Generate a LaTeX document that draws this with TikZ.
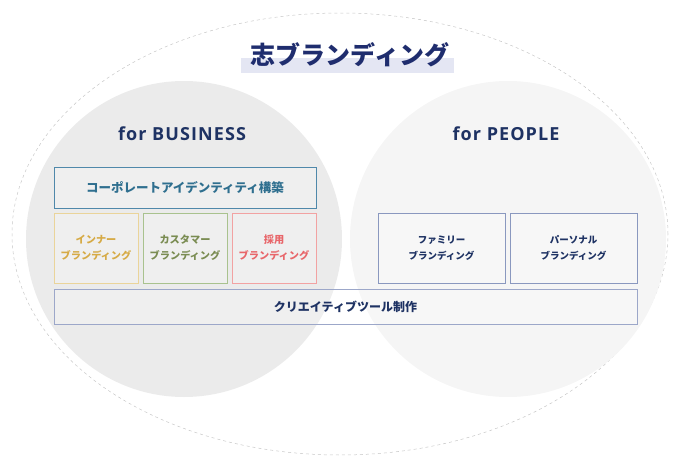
\documentclass[tikz,border=0pt]{standalone}
\usepackage{fontspec}
\setmainfont{Noto Sans CJK JP}
\newfontfamily\jpfont{Noto Sans CJK JP}
\newfontfamily\latinfont[LetterSpace=6]{Open Sans}
\definecolor{navy}{HTML}{1E3263}
\definecolor{titlenavy}{HTML}{1F2D6E}
\definecolor{band}{HTML}{E4E6F3}
\definecolor{bizgray}{HTML}{EBEBEB}
\definecolor{peoplegray}{HTML}{F5F5F5}
\definecolor{ciblue}{HTML}{4F88AA}
\definecolor{citext}{HTML}{2F6F8F}
\definecolor{inneryellow}{HTML}{EAD49A}
\definecolor{innertext}{HTML}{D6AA45}
\definecolor{custgreen}{HTML}{A9C28E}
\definecolor{custtext}{HTML}{7A8C52}
\definecolor{recred}{HTML}{F2A2A2}
\definecolor{rectext}{HTML}{E8666A}
\definecolor{slate}{HTML}{8A98BF}
\begin{document}
\begin{tikzpicture}[x=1pt,y=-1pt,
  svcbox/.style={draw=slate,line width=1pt,fill=white,fill opacity=0.2,text opacity=1,
    minimum width=127pt,minimum height=70pt,align=center,font=\jpfont\bfseries\fontsize{9.5}{16}\selectfont,text=navy},
  smallbox/.style={svcbox,minimum width=84pt,font=\jpfont\bfseries\fontsize{10.2}{16}\selectfont},
  forlabel/.style={font=\latinfont\bfseries\fontsize{18}{20}\selectfont,text=navy}]
\useasboundingbox (0,0) rectangle (678,458);
% circles
\draw[gray!45,dashed,line width=0.5pt] (340,234) ellipse (328pt and 221pt);
\fill[bizgray] (184,239) circle (158pt);
\fill[peoplegray] (508,239) circle (158pt);
% title
\fill[band] (241,58) rectangle (454,73);
\node[font=\jpfont\bfseries\fontsize{25}{28}\selectfont,text=titlenavy] (title) at (350,55) {志ブランディング};
\node[forlabel] (biz) at (182,134) {for BUSINESS};
\node[forlabel] (people) at (506,134) {for PEOPLE};
% business
\node[svcbox,draw=ciblue,text=citext,minimum width=262pt,minimum height=41pt,
  font=\jpfont\bfseries\fontsize{12.5}{14}\selectfont] (ci) at (185,187.5) {コーポレートアイデンティティ構築};
\node[smallbox,draw=inneryellow,text=innertext] (inner) at (96,248) {インナー\\ブランディング};
\node[smallbox,draw=custgreen,text=custtext] (cust) at (185,248) {カスタマー\\ブランディング};
\node[smallbox,draw=recred,text=rectext] (recruit) at (274,248) {採用\\ブランディング};
% people
\node[svcbox] (family) at (441.5,248) {ファミリー\\ブランディング};
\node[svcbox] (personal) at (573.5,248) {パーソナル\\ブランディング};
% tools
\node[svcbox,draw=slate!85,minimum width=583pt,minimum height=35pt,
  font=\jpfont\bfseries\fontsize{12}{14}\selectfont] (tools) at (345.5,306.5) {クリエイティブツール制作};
\end{tikzpicture}
\end{document}
